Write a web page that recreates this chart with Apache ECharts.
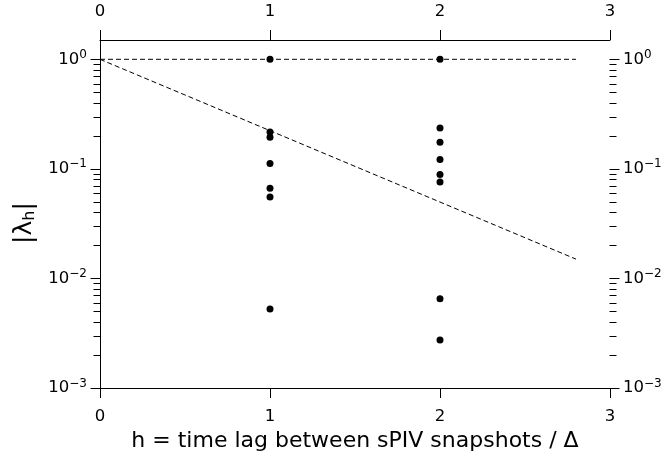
<!DOCTYPE html>
<html>
<head>
<meta charset="utf-8">
<script src="https://cdn.jsdelivr.net/npm/echarts@6/dist/echarts.min.js"></script>
<style>
  html, body { margin: 0; padding: 0; background: #fff; }
  #chart { width: 662px; height: 454px; }
</style>
</head>
<body>
<div id="chart"></div>
<script>
// Eigenvalue magnitudes |lambda_h| for each time lag h
const lagValues = [1, 2];
const lagOneEigen = [1.0, 0.217, 0.194, 0.112, 0.0667, 0.0555, 0.00525];
const lagTwoEigen = [1.0, 0.236, 0.175, 0.122, 0.0889, 0.076, 0.00652, 0.00274];

// Reference lines: constant |lambda| = 1 and the decay exp(-1.5 h)
const refH = [0, 2.8];
const flatRef = [1, 1];
const decayRef = [1, 0.015];

// Axis ranges
const yMin = 0.001;
const yMax = 1.5;

const FONT = 'DejaVu Sans';

const points = [];
lagOneEigen.forEach(v => points.push([lagValues[0], v]));
lagTwoEigen.forEach(v => points.push([lagValues[1], v]));

// Major and minor tick positions of the log axis (1..9 x 10^k)
const logTicks = [];
for (let k = -3; k <= 0; k++) {
  for (let m = 1; m <= 9; m++) {
    const v = m * Math.pow(10, k);
    if (v >= yMin && v <= 1) logTicks.push([m, v]);
  }
}

function powLabel(value) {
  const e = Math.log10(value);
  const r = Math.round(e);
  if (Math.abs(e - r) > 1e-6) return '';
  return '{b|10}{s|' + (r < 0 ? '\u2212' + (-r) : r) + '}';
}

const labelRich = {
  b: { fontFamily: FONT, fontSize: 16.5, color: '#000' },
  s: { fontFamily: FONT, fontSize: 12, color: '#000', padding: [0, 0, 9, 0] }
};

const xAxisBase = {
  type: 'value', min: 0, max: 3, interval: 1,
  splitLine: { show: false },
  axisLine: { show: true, lineStyle: { color: '#000', width: 1 } },
  axisTick: { show: true, inside: false, length: 10, lineStyle: { color: '#000', width: 1 } },
  axisLabel: { margin: 20, fontFamily: FONT, fontSize: 16.5, color: '#000' }
};

const yAxisBase = {
  type: 'log', logBase: 10, min: yMin, max: yMax,
  splitLine: { show: false },
  axisLine: { show: true, lineStyle: { color: '#000', width: 1 } },
  axisTick: { show: false },
  axisLabel: { margin: 13, formatter: powLabel, rich: labelRich, showMaxLabel: false }
};

const chart = echarts.init(document.getElementById('chart'), null, { renderer: 'canvas' });

chart.setOption({
  animation: false,
  backgroundColor: '#fff',
  grid: { left: 100, right: 52, top: 40, bottom: 66, containLabel: false, outerBoundsMode: 'none' },
  xAxis: [
    Object.assign({}, xAxisBase, {
      position: 'bottom',
      name: 'h = time lag between sPIV snapshots / \u0394',
      nameLocation: 'middle',
      nameGap: 33,
      nameTextStyle: { fontFamily: FONT, fontSize: 22, color: '#000' }
    }),
    Object.assign({}, xAxisBase, { position: 'top' })
  ],
  yAxis: [
    Object.assign({}, yAxisBase, {
      position: 'left',
      name: '{a||\u03bb}{h|h}{a||}',
      nameLocation: 'middle',
      nameRotate: 90,
      nameGap: 62,
      nameTextStyle: {
        padding: [0, 18, 0, 0],
        rich: {
          a: { fontFamily: FONT, fontSize: 25, color: '#000' },
          h: { fontFamily: FONT, fontSize: 16, color: '#000', padding: [10, 0, 0, 0] }
        }
      }
    }),
    Object.assign({}, yAxisBase, { position: 'right' })
  ],
  series: [
    {
      // Outward log ticks on both vertical axes, snapped to whole pixels
      type: 'custom',
      xAxisIndex: 0, yAxisIndex: 0,
      silent: true, clip: false, z: 1,
      data: logTicks,
      renderItem: function (params, api) {
        const m = api.value(0);
        const len = m === 1 ? 10 : 7;
        const left = api.coord([0, api.value(1)]);
        const right = api.coord([3, api.value(1)]);
        const y = Math.round(left[1]) + 0.5;
        const xl = Math.round(left[0]) + 0.5;
        const xr = Math.round(right[0]) - 0.5;
        const style = { stroke: '#000', lineWidth: 1 };
        return {
          type: 'group',
          children: [
            { type: 'line', shape: { x1: xl - len, y1: y, x2: xl, y2: y }, style: style },
            { type: 'line', shape: { x1: xr, y1: y, x2: xr + len, y2: y }, style: style }
          ]
        };
      },
      encode: { x: 0, y: 1 }
    },
    {
      type: 'line', xAxisIndex: 0, yAxisIndex: 0,
      data: refH.map((h, i) => [h, flatRef[i]]),
      showSymbol: false, silent: true,
      lineStyle: { color: '#000', width: 1, type: [5, 3] }
    },
    {
      type: 'line', xAxisIndex: 0, yAxisIndex: 0,
      data: refH.map((h, i) => [h, decayRef[i]]),
      showSymbol: false, silent: true,
      lineStyle: { color: '#000', width: 1, type: [5, 3] }
    },
    {
      type: 'scatter', xAxisIndex: 0, yAxisIndex: 0,
      data: points,
      symbol: 'circle', symbolSize: 7,
      itemStyle: { color: '#000', opacity: 1 },
      silent: true, z: 5
    }
  ]
});
</script>
</body>
</html>
